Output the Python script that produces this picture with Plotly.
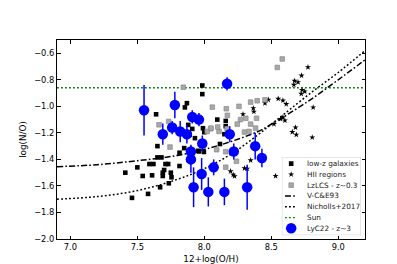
import plotly.graph_objects as go

# ---------------- data ----------------
lowz_oh = [7.41, 7.46, 7.50, 7.54, 7.58, 7.59, 7.62, 7.61, 7.64, 7.65, 7.65, 7.68, 7.67, 7.69,
           7.70, 7.69, 7.71, 7.73, 7.75, 7.755, 7.735, 7.815, 7.815, 7.955, 7.87, 7.855, 7.88,
           7.89, 7.85, 7.91, 7.985, 7.985, 7.99, 8.097, 8.16, 8.00, 7.93, 8.117, 7.96, 7.997,
           8.15, 8.16]
lowz_no = [-1.50, -1.69, -1.46, -1.525, -1.66, -1.435, -1.435, -1.52, -1.06, -1.30, -1.385, -1.385,
           -1.61, -1.50, -1.48, -1.525, -1.435, -1.435, -1.50, -1.535, -1.58, -1.45, -1.35, -1.335,
           -0.976, -1.008, -1.14, -1.215, -1.315, -1.17, -0.843, -0.908, -1.165, -1.10, -1.15,
           -1.195, -1.24, -1.284, -1.34, -1.344, -1.21, -1.11]

hii_oh = [8.774, 8.726, 8.674, 8.70, 8.669, 8.73, 8.75, 8.724, 8.552, 8.587, 8.612, 8.813, 8.587,
          8.602, 8.57, 8.52, 8.681, 8.657, 8.687, 8.806, 8.289, 8.366, 8.37, 8.453, 8.478, 8.346,
          8.32, 8.196, 8.216, 8.226, 8.30, 8.532]
hii_no = [-0.705, -0.768, -0.808, -0.818, -0.838, -0.876, -0.888, -0.906, -0.943, -0.956, -0.983,
          -1.008, -1.083, -1.106, -1.095, -1.134, -1.159, -1.194, -1.214, -1.234, -1.059, -1.014,
          -1.04, -0.976, -0.951, -1.407, -1.47, -1.49, -1.515, -1.527, -1.467, -1.525]

lzlcs_oh = [8.582, 8.545, 8.453, 8.06, 8.164, 8.172, 8.259, 8.346, 8.395, 8.27, 8.31, 8.39, 8.346,
            8.246, 8.383, 8.30, 8.334, 8.17, 8.11, 8.047, 8.022, 7.843, 7.734, 7.662, 7.744,
            8.16, 8.24, 8.16, 8.092, 8.10, 8.05]
lzlcs_no = [-0.643, -0.707, -0.951, -1.006, -1.018, -1.068, -1.0, -0.968, -0.958, -1.10, -1.09,
            -1.09, -1.134, -1.134, -1.164, -1.194, -1.189, -1.169, -1.189, -1.169, -1.189, -0.856,
            -1.114, -1.139, -1.307, -1.459, -1.414, -1.342, -1.327, -1.156, -1.164]

lyc_oh = [7.55, 7.78, 7.69, 7.76, 7.82, 7.87, 7.91, 7.96, 8.17, 8.19, 7.985, 8.22, 8.38, 8.43,
          7.90, 7.90, 8.07, 7.98, 7.92, 8.03, 8.15, 8.32]
lyc_no = [-1.03, -0.99, -1.21, -1.16, -1.19, -1.21, -1.08, -1.10, -0.83, -1.21, -1.28, -1.34,
          -1.30, -1.39, -1.34, -1.40, -1.46, -1.51, -1.61, -1.645, -1.645, -1.61]
lyc_err = [0.19, 0.10, 0.08, 0.05, 0.08, 0.07, 0.05, 0.05, 0.05, 0.06, 0.06, 0.06, 0.10, 0.07,
           0.05, 0.10, 0.06, 0.12, 0.15, 0.11, 0.10, 0.17]

curve_oh = [6.9, 7.2, 7.5, 7.8, 8.0, 8.2, 8.4, 8.5, 8.6, 8.8, 9.0, 9.2]
vce93_no = [-1.455, -1.44, -1.41, -1.37, -1.325, -1.265, -1.19, -1.135, -1.075, -0.945, -0.80, -0.65]
nich17_no = [-1.70, -1.68, -1.635, -1.55, -1.47, -1.36, -1.215, -1.135, -1.055, -0.895, -0.745, -0.58]

sun_oh = [6.9, 9.2]
sun_no = [-0.86, -0.86]

legend_labels = ["low-z galaxies", "HII regions", "LzLCS - z~0.3", "V-C&E93",
                 "Nicholls+2017", "Sun", "LyC22 - z~3"]

x_ticks = [7.0, 7.5, 8.0, 8.5, 9.0]
y_ticks = [-2.0, -1.8, -1.6, -1.4, -1.2, -1.0, -0.8, -0.6]

# ---------------- styles ----------------
FONT = "DejaVu Sans"
DASHDOT = "6px,2.2px,1.6px,2.2px"
DOT = "1.8px,2.2px"
GREY_FILL = "#a8a8a8"
GREY_LINE = "#8a8a8a"
STAR_SIZE = 4.6

fig = go.Figure()

fig.add_trace(go.Scatter(x=curve_oh, y=vce93_no, mode="lines", line_shape="spline",
                         line=dict(color="black", width=1.5, dash=DASHDOT), showlegend=False))
fig.add_trace(go.Scatter(x=curve_oh, y=nich17_no, mode="lines", line_shape="spline",
                         line=dict(color="black", width=1.5, dash=DOT), showlegend=False))
fig.add_trace(go.Scatter(x=sun_oh, y=sun_no, mode="lines",
                         line=dict(color="#008000", width=1.3, dash=DOT), showlegend=False))
fig.add_trace(go.Scatter(x=lowz_oh, y=lowz_no, mode="markers",
                         marker=dict(symbol="square", size=4.6, color="black"), showlegend=False))
fig.add_trace(go.Scatter(x=hii_oh, y=hii_no, mode="markers",
                         marker=dict(symbol="star", size=STAR_SIZE, color="black"), showlegend=False))
fig.add_trace(go.Scatter(x=lzlcs_oh, y=lzlcs_no, mode="markers",
                         marker=dict(symbol="square", size=4.6, color=GREY_FILL,
                                     line=dict(color=GREY_LINE, width=0.7)), showlegend=False))
fig.add_trace(go.Scatter(x=lyc_oh, y=lyc_no, mode="markers",
                         error_y=dict(type="data", array=lyc_err, color="#0000ff",
                                      thickness=1.5, width=0),
                         marker=dict(symbol="circle", size=10.5, color="#0000ff"),
                         showlegend=False))

# ---------------- custom legend (overlay axes inside the plot) ----------------
n = len(legend_labels)
rows = [-i for i in range(n)]
mx = 0.118
lx0, lx1 = 0.04, 0.19
leg_marker = [
    dict(symbol="square", size=4.6, color="black"),
    dict(symbol="star", size=STAR_SIZE, color="black"),
    dict(symbol="square", size=4.6, color=GREY_FILL, line=dict(color=GREY_LINE, width=0.7)),
    None, None, None,
    dict(symbol="circle", size=10.5, color="#0000ff"),
]
leg_line = [None, None, None,
            dict(color="black", width=1.5, dash=DASHDOT),
            dict(color="black", width=1.5, dash=DOT),
            dict(color="#008000", width=1.3, dash=DOT),
            None]
for i in range(n):
    if leg_marker[i] is not None:
        fig.add_trace(go.Scatter(x=[mx], y=[rows[i]], mode="markers", marker=leg_marker[i],
                                 xaxis="x2", yaxis="y2", showlegend=False, hoverinfo="skip"))
    else:
        fig.add_trace(go.Scatter(x=[lx0, lx1], y=[rows[i], rows[i]], mode="lines",
                                 line=leg_line[i], xaxis="x2", yaxis="y2",
                                 showlegend=False, hoverinfo="skip"))
    fig.add_annotation(x=0.29, y=rows[i], xref="x2", yref="y2", text=legend_labels[i],
                       showarrow=False, xanchor="left", yanchor="middle",
                       font=dict(family=FONT, size=7.3, color="#1a1a1a"))

fig.add_shape(type="rect", xref="x2", yref="y2", x0=0.0, x1=1.0, y0=-6.64, y1=0.61,
              line=dict(color="#cccccc", width=1), fillcolor="rgba(255,255,255,0.85)",
              layer="below")

axis_common = dict(showgrid=False, zeroline=False, showline=True, linecolor="black",
                   linewidth=1, mirror="ticks", ticks="inside", ticklen=3.5, tickwidth=1,
                   tickcolor="black", tickformat=".1f",
                   tickfont=dict(family=FONT, size=8.3, color="black"))

fig.update_layout(
    width=397, height=264,
    margin=dict(l=49, r=40, t=32, b=33, autoexpand=False),
    paper_bgcolor="white", plot_bgcolor="rgba(0,0,0,0)",
    font=dict(family=FONT, color="black"),
    showlegend=False,
    xaxis=dict(range=[6.9, 9.2], tickvals=x_ticks,
               title=dict(text="12+log(O/H)", font=dict(family=FONT, size=8.8), standoff=4),
               **axis_common),
    yaxis=dict(range=[-2.0, -0.5], tickvals=y_ticks,
               title=dict(text="log(N/O)", font=dict(family=FONT, size=8.8), standoff=6),
               **axis_common),
    xaxis2=dict(domain=[0.73, 0.987], anchor="y2", range=[0, 1], visible=False),
    yaxis2=dict(domain=[0.019, 0.412], anchor="x2", range=[-6.64, 0.61], visible=False),
)

fig.write_html("out.html")
